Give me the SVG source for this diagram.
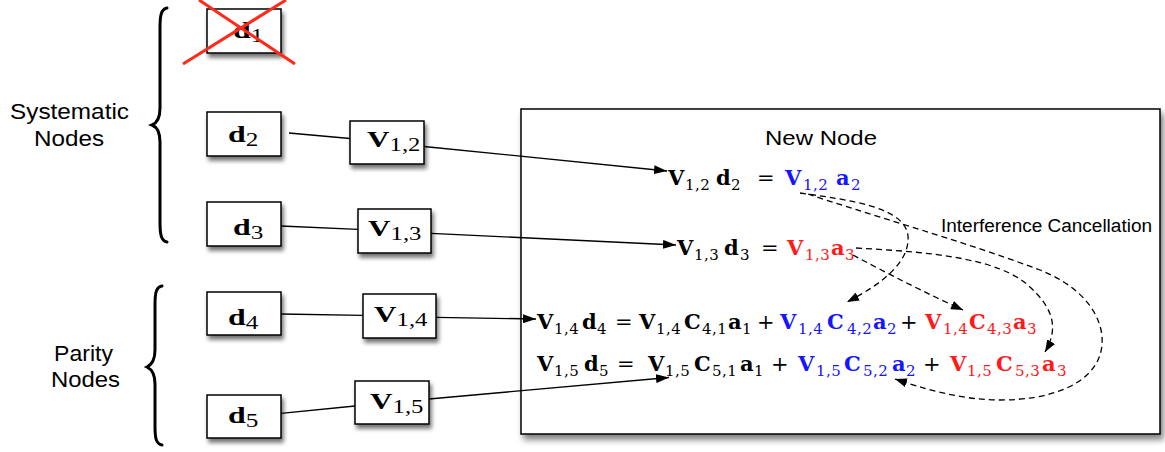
<svg xmlns="http://www.w3.org/2000/svg" width="1165" height="452" viewBox="0 0 1165 452">
<defs>
<filter id="sh" x="-20%" y="-20%" width="150%" height="170%"><feDropShadow dx="2" dy="4" stdDeviation="2.2" flood-color="#000" flood-opacity="0.55"/></filter>
<filter id="shb" x="-5%" y="-5%" width="112%" height="115%"><feDropShadow dx="3" dy="5" stdDeviation="3" flood-color="#000" flood-opacity="0.5"/></filter>
<marker id="ah" viewBox="0 0 13 9" refX="13" refY="4.5" markerWidth="13" markerHeight="9" markerUnits="userSpaceOnUse" orient="auto"><path d="M0,0 L13,4.5 L0,9 z" fill="#000"/></marker>
<marker id="ahd" viewBox="0 0 12 9" refX="12" refY="4.5" markerWidth="12" markerHeight="9" markerUnits="userSpaceOnUse" orient="auto"><path d="M0,0 L12,4.5 L0,9 z" fill="#000"/></marker>
</defs>
<style>
.box{fill:#fff;stroke:#000;stroke-width:1.5;filter:url(#sh)}
.lbl{font-family:"Liberation Serif",serif;font-weight:bold;font-size:24px;fill:#000}
.lsub{font-weight:normal;font-size:19px}
.sans{font-family:"Liberation Sans",Arial,sans-serif;fill:#000}
.m{font-family:"DejaVu Serif",serif;font-weight:bold;font-size:21px;fill:#000}
.s{font-weight:normal;font-size:15px;letter-spacing:0.5px}
.s1{font-weight:normal;font-size:15px}
.op{font-family:"DejaVu Serif",serif;font-weight:normal;font-size:21px}
.b{fill:#1515ff}
.r{fill:#ff1a1a}
.con{stroke:#000;stroke-width:1.3;fill:none}
.dash{stroke:#000;stroke-width:1.3;fill:none;stroke-dasharray:6,4}
.brace{stroke:#000;stroke-width:3;fill:none;stroke-linecap:round}
</style>

<g id="labels">
<text class="sans" x="10" y="119" font-size="22" textLength="119" lengthAdjust="spacingAndGlyphs">Systematic</text>
<text class="sans" x="34" y="146" font-size="22" textLength="70" lengthAdjust="spacingAndGlyphs">Nodes</text>
<text class="sans" x="54" y="361" font-size="22" textLength="59" lengthAdjust="spacingAndGlyphs">Parity</text>
<text class="sans" x="51" y="387" font-size="22" textLength="69" lengthAdjust="spacingAndGlyphs">Nodes</text>
<path class="brace" d="M167,8 C161,9 160,16 160,28 L160,108 C160,119 157,123 152,125 C157,127 160,131 160,142 L160,222 C160,234 161,241 167,242"/>
<path class="brace" d="M162,286 C156,287 155,293 155,305 L155,350 C155,361 151,365 147,367 C151,369 155,373 155,384 L155,426 C155,438 156,444 162,445"/>
</g>

<g id="node-new">
<rect x="521" y="109" width="639" height="325" fill="#fff" stroke="#000" stroke-width="1.5" filter="url(#shb)"/>
<text class="sans" x="765" y="145" font-size="21" textLength="112" lengthAdjust="spacingAndGlyphs">New Node</text>
<text class="sans" x="941" y="232" font-size="18" textLength="211" lengthAdjust="spacingAndGlyphs">Interference Cancellation</text>
<text class="m">
<tspan x="668" y="185">V</tspan><tspan class="s" x="685" y="190">1,2</tspan><tspan x="716" y="185">d</tspan><tspan class="s1" x="731" y="190">2</tspan><tspan class="op" x="757" y="185">=</tspan><tspan class="b" x="785" y="185">V</tspan><tspan class="s b" x="803" y="190">1,2</tspan><tspan class="b" x="836" y="185">a</tspan><tspan class="s1 b" x="851" y="190">2</tspan>
</text>
<text class="m">
<tspan x="677" y="255">V</tspan><tspan class="s" x="694" y="260">1,3</tspan><tspan x="724" y="255">d</tspan><tspan class="s1" x="740" y="260">3</tspan><tspan class="op" x="761" y="255">=</tspan><tspan class="r" x="787" y="255">V</tspan><tspan class="s r" x="805" y="260">1,3</tspan><tspan class="r" x="831" y="255">a</tspan><tspan class="s1 r" x="845" y="260">3</tspan>
</text>
<text class="m">
<tspan x="537" y="329">V</tspan><tspan class="s" x="554" y="334">1,4</tspan><tspan x="582" y="329">d</tspan><tspan class="s1" x="597" y="334">4</tspan><tspan class="op" x="615" y="329">=</tspan><tspan x="639" y="329">V</tspan><tspan class="s" x="656" y="334">1,4</tspan><tspan x="684" y="329">C</tspan><tspan class="s" x="702" y="334">4,1</tspan><tspan x="728" y="329">a</tspan><tspan class="s1" x="742" y="334">1</tspan><tspan class="op" x="757" y="329">+</tspan><tspan class="b" x="780" y="329">V</tspan><tspan class="s b" x="798" y="334">1,4</tspan><tspan class="b" x="827" y="329">C</tspan><tspan class="s b" x="847" y="334">4,2</tspan><tspan class="b" x="873" y="329">a</tspan><tspan class="s1 b" x="887" y="334">2</tspan><tspan class="op" x="900" y="329">+</tspan><tspan class="r" x="925" y="329">V</tspan><tspan class="s r" x="943" y="334">1,4</tspan><tspan class="r" x="969" y="329">C</tspan><tspan class="s r" x="987" y="334">4,3</tspan><tspan class="r" x="1013" y="329">a</tspan><tspan class="s1 r" x="1027" y="334">3</tspan>
</text>
<text class="m">
<tspan x="537" y="371">V</tspan><tspan class="s" x="554" y="376">1,5</tspan><tspan x="584" y="371">d</tspan><tspan class="s1" x="599" y="376">5</tspan><tspan class="op" x="617" y="371">=</tspan><tspan x="648" y="371">V</tspan><tspan class="s" x="665" y="376">1,5</tspan><tspan x="694" y="371">C</tspan><tspan class="s" x="712" y="376">5,1</tspan><tspan x="740" y="371">a</tspan><tspan class="s1" x="754" y="376">1</tspan><tspan class="op" x="771" y="371">+</tspan><tspan class="b" x="798" y="371">V</tspan><tspan class="s b" x="816" y="376">1,5</tspan><tspan class="b" x="844" y="371">C</tspan><tspan class="s b" x="863" y="376">5,2</tspan><tspan class="b" x="892" y="371">a</tspan><tspan class="s1 b" x="906" y="376">2</tspan><tspan class="op" x="923" y="371">+</tspan><tspan class="r" x="950" y="371">V</tspan><tspan class="s r" x="967" y="376">1,5</tspan><tspan class="r" x="996" y="371">C</tspan><tspan class="s r" x="1015" y="376">5,3</tspan><tspan class="r" x="1042" y="371">a</tspan><tspan class="s1 r" x="1057" y="376">3</tspan>
</text>
</g>

<g id="node-d1">
<rect class="box" x="207" y="9" width="74" height="44"/>
<text class="lbl" transform="translate(233,38) scale(1.33,1)">d<tspan class="lsub" dy="4">1</tspan></text>
<line x1="183" y1="64" x2="286" y2="0" stroke="#ff2a1a" stroke-width="3"/>
<line x1="199" y1="0" x2="295" y2="64" stroke="#ff2a1a" stroke-width="3"/>
</g>
<g id="node-d2">
<rect class="box" x="207" y="112" width="74" height="44"/>
<text class="lbl" transform="translate(228,142) scale(1.33,1)">d<tspan class="lsub" dy="4">2</tspan></text>
</g>
<g id="node-d3">
<rect class="box" x="207" y="202" width="74" height="44"/>
<text class="lbl" transform="translate(233,235) scale(1.33,1)">d<tspan class="lsub" dy="4">3</tspan></text>
</g>
<g id="node-d4">
<rect class="box" x="207" y="292" width="74" height="43"/>
<text class="lbl" transform="translate(228,325) scale(1.33,1)">d<tspan class="lsub" dy="4">4</tspan></text>
</g>
<g id="node-d5">
<rect class="box" x="207" y="395" width="74" height="43"/>
<text class="lbl" transform="translate(228,423) scale(1.33,1)">d<tspan class="lsub" dy="4">5</tspan></text>
</g>
<g id="node-v12">
<rect class="box" x="350" y="121" width="74" height="43"/>
<text class="lbl" transform="translate(367,147) scale(1.3,1)">V<tspan class="lsub" dy="4">1,2</tspan></text>
</g>
<g id="node-v13">
<rect class="box" x="358" y="209" width="73" height="44"/>
<text class="lbl" transform="translate(368,236) scale(1.3,1)">V<tspan class="lsub" dy="4">1,3</tspan></text>
</g>
<g id="node-v14">
<rect class="box" x="363" y="294" width="73" height="44"/>
<text class="lbl" transform="translate(374,322) scale(1.3,1)">V<tspan class="lsub" dy="4">1,4</tspan></text>
</g>
<g id="node-v15">
<rect class="box" x="355" y="381" width="74" height="43"/>
<text class="lbl" transform="translate(370,409) scale(1.3,1)">V<tspan class="lsub" dy="4">1,5</tspan></text>
</g>

<g id="connectors">
<line class="con" x1="289" y1="133" x2="350" y2="138.5"/>
<line class="con" x1="424" y1="146.5" x2="667" y2="171" marker-end="url(#ah)"/>
<line class="con" x1="281" y1="226" x2="358" y2="229.3"/>
<line class="con" x1="431" y1="233.3" x2="676" y2="245" marker-end="url(#ah)"/>
<line class="con" x1="281" y1="314" x2="363" y2="315.3"/>
<line class="con" x1="436" y1="317.3" x2="536" y2="319" marker-end="url(#ah)"/>
<line class="con" x1="281" y1="413.3" x2="355" y2="406"/>
<line class="con" x1="429" y1="399" x2="669" y2="377.5" marker-end="url(#ah)"/>
<path class="dash" d="M800,193 C850,200 905,207 908,236 C910,262 882,284 847,302" marker-end="url(#ahd)"/>
<path class="dash" d="M808,194 C860,212 960,240 1040,270 C1095,292 1108,330 1100,355 C1090,385 1050,400 1000,400 C960,400 922,388 895,379" marker-end="url(#ahd)"/>
<path class="dash" d="M856,248 C930,252 1000,258 1030,287 C1055,310 1058,330 1045,352" marker-end="url(#ahd)"/>
<path class="dash" d="M853,255 C890,275 930,295 963,310" marker-end="url(#ahd)"/>
</g>
</svg>
